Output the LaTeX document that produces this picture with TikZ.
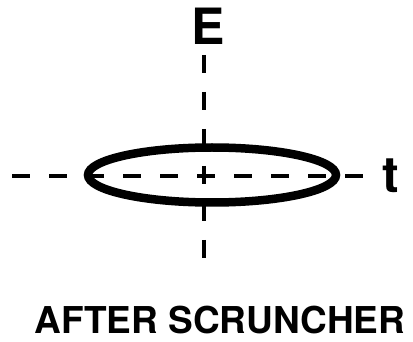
\documentclass[tikz,border=0pt]{standalone}
\usepackage{fontspec}
\setmainfont{TeX Gyre Heros}
\begin{document}
\begin{tikzpicture}[x=1pt, y=-1pt,
  every node/.style={inner sep=0pt, font=\bfseries},
  axis/.style={line width=4pt, dash pattern=on 18pt off 19pt},
  axlabel/.style={anchor=base, font=\fontsize{50}{50}\selectfont\bfseries}]
\useasboundingbox (0,0) rectangle (413,342);

% axes
\coordinate (etop) at (204,55);
\coordinate (ebot) at (204,268);
\coordinate (tleft) at (12,176);
\coordinate (tright) at (368,176);
\draw[axis] (etop) -- (ebot);
\draw[axis] (tleft) -- (tright);

% beam ellipse
\draw[line width=8.5pt] (212,175) ellipse [x radius=124, y radius=27.5];

\node[axlabel] (E) at (208,45) {E};
\node[axlabel] (t) at (391,193) {t};
\node[anchor=base, font=\fontsize{37}{37}\selectfont\bfseries] (title) at (220,334) {AFTER SCRUNCHER};
\end{tikzpicture}
\end{document}
